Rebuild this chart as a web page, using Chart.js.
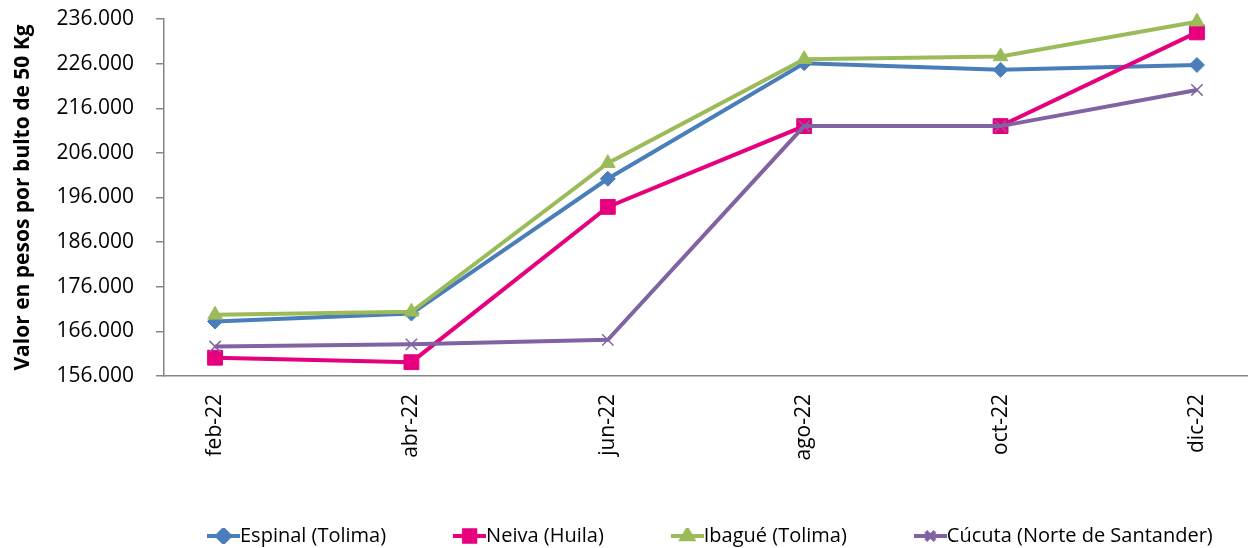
<!DOCTYPE html>
<html>
<head>
<meta charset="utf-8">
<title>Precio por bulto de 50 Kg</title>
<script src="https://cdn.jsdelivr.net/npm/chart.js@4"></script>
<style>
  html, body { margin: 0; padding: 0; background: #fff; }
  #wrap { width: 1248px; height: 548px; }
</style>
</head>
<body>
<div id="wrap"><canvas id="chart" width="1248" height="548"></canvas></div>
<script>
// Datos
const months = ["feb-22", "abr-22", "jun-22", "ago-22", "oct-22", "dic-22"];
const espinal = [168200, 170000, 200200, 226100, 224600, 225700];
const neiva = [160100, 159100, 193900, 212000, 212000, 233000];
const ibague = [169700, 170400, 203700, 227000, 227600, 235400];
const cucuta = [162600, 163100, 164100, 212000, 212000, 220100];
const yMin = 156000, yMax = 236000, yStep = 10000;

const seriesNames = ["Espinal (Tolima)", "Neiva (Huila)", "Ibagué (Tolima)", "Cúcuta (Norte de Santander)"];
const seriesValues = [espinal, neiva, ibague, cucuta];
const colors = ["#4A7EBB", "#E6007E", "#9BBB59", "#8064A2"];
const markers = ["rectRot", "rect", "triangle", "crossRot"];
const radius = [7.5, 10.5, 8.5, 8];

const FONT = "'Open Sans', 'Noto Sans', sans-serif";
const AXIS = "#868686";
const LEGEND_SIZE = 20;

// separador de miles con punto
function fmt(v) {
    return String(v).replace(/\B(?=(\d{3})+(?!\d))/g, ".");
}

// icono de leyenda: línea con el marcador en medio
function legendIcon(i) {
    const c = document.createElement("canvas");
    c.width = 33;
    c.height = 16;
    const ctx = c.getContext("2d");
    ctx.strokeStyle = colors[i];
    ctx.fillStyle = colors[i];
    ctx.lineWidth = 4;
    ctx.beginPath();
    ctx.moveTo(0, 8);
    ctx.lineTo(33, 8);
    ctx.stroke();
    Chart.helpers.drawPoint(ctx, {
        pointStyle: markers[i],
        radius: markers[i] === "rect" ? 8 : 6.5,
        rotation: 0,
        borderWidth: markers[i] === "crossRot" ? 1.5 : 1
    }, 16.5, 8);
    return c;
}
const icons = seriesNames.map((n, i) => legendIcon(i));

// coloca la leyenda como en el original
const legendPlace = {
    id: "legendPlace",
    afterLayout(chart) {
        const lg = chart.legend;
        const pad = lg.options.labels.padding;
        const w = lg.right - lg.left;
        lg.left = 207 + LEGEND_SIZE / 2 - pad;
        lg.right = lg.left + w;
        lg.top = 536 - pad - LEGEND_SIZE / 2;
        lg.bottom = 548;
        lg.height = lg.bottom - lg.top;
    }
};

const datasets = seriesNames.map((name, i) => ({
    label: name,
    data: seriesValues[i].map((v, k) => ({ x: k, y: v })),
    borderColor: colors[i],
    backgroundColor: colors[i],
    borderWidth: 4,
    pointStyle: markers[i],
    pointRadius: radius[i],
    pointHoverRadius: radius[i],
    pointBackgroundColor: colors[i],
    pointBorderColor: colors[i],
    pointBorderWidth: markers[i] === "crossRot" ? 1.5 : 1,
    tension: 0,
    clip: false,
    order: 4 - i
}));

new Chart(document.getElementById("chart"), {
    type: "line",
    data: { datasets },
    options: {
        responsive: false,
        animation: false,
        layout: { autoPadding: false, padding: { top: 19, right: 0, bottom: 0, left: 0 } },
        scales: {
            x: {
                type: "linear",
                min: -0.26,
                max: 5.26,
                afterBuildTicks: s => { s.ticks = months.map((m, i) => ({ value: i })); },
                afterFit: s => { s.height = 112; s.paddingLeft = 0; s.paddingRight = 0; },
                ticks: {
                    autoSkip: false,
                    minRotation: 90,
                    maxRotation: 90,
                    padding: 18,
                    color: "#000",
                    font: { family: FONT, size: 21 },
                    callback: v => months[v]
                },
                grid: { display: false, drawTicks: false },
                border: { display: true, color: AXIS, width: 1.5 }
            },
            y: {
                min: yMin,
                max: yMax,
                afterFit: s => { s.width = 164; s.paddingTop = 0; s.paddingBottom = 0; },
                ticks: {
                    stepSize: yStep,
                    padding: 22,
                    color: "#000",
                    font: { family: FONT, size: 21 },
                    callback: v => fmt(v)
                },
                grid: { display: true, drawOnChartArea: false, drawTicks: true, tickLength: 8, color: AXIS, lineWidth: 1.5 },
                border: { display: true, color: AXIS, width: 1.5 },
                title: {
                    display: true,
                    text: "Valor en pesos por bulto de 50 Kg",
                    color: "#000",
                    font: { family: FONT, size: 21, weight: "bold" },
                    padding: { top: 10, bottom: 0 }
                }
            }
        },
        plugins: {
            tooltip: { enabled: false },
            legend: {
                position: "bottom",
                align: "start",
                maxHeight: 60,
                labels: {
                    usePointStyle: true,
                    pointStyleWidth: 33 - LEGEND_SIZE,
                    padding: 67 + LEGEND_SIZE / 2,
                    color: "#000",
                    font: { family: FONT, size: LEGEND_SIZE },
                    generateLabels: chart => chart.data.datasets.map((ds, i) => ({
                        text: ds.label,
                        pointStyle: icons[i],
                        fillStyle: colors[i],
                        strokeStyle: colors[i],
                        lineWidth: 0,
                        fontColor: "#000",
                        hidden: false,
                        datasetIndex: i
                    }))
                }
            }
        }
    },
    plugins: [legendPlace]
});
</script>
</body>
</html>
